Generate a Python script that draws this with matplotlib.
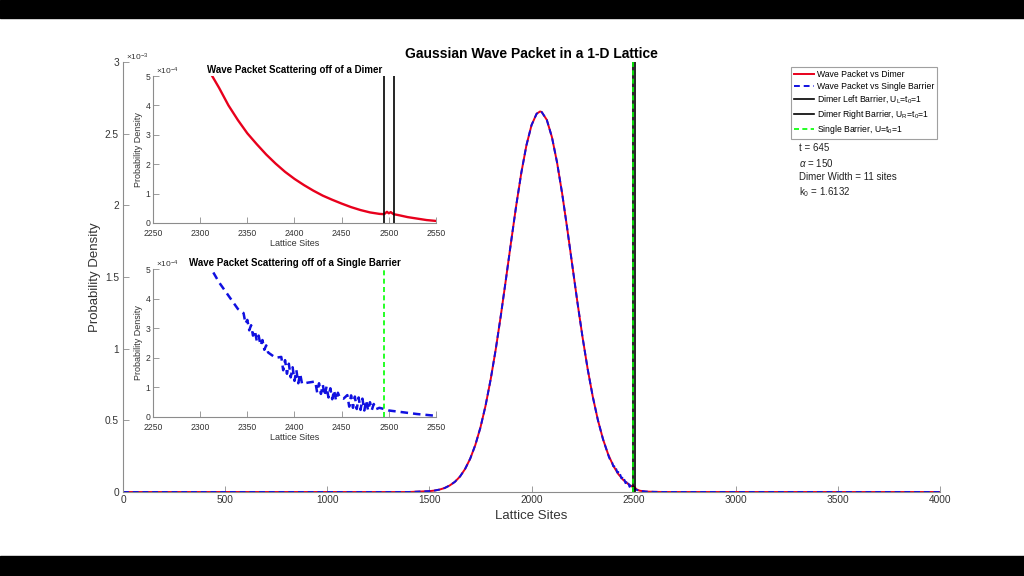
import numpy as np
import matplotlib
matplotlib.use("Agg")
import matplotlib.pyplot as plt
from matplotlib.patches import Rectangle
from matplotlib.ticker import FixedLocator, FuncFormatter

plt.rcParams['font.family'] = ['Liberation Sans', 'DejaVu Sans']
plt.rcParams['mathtext.fontset'] = 'custom'
plt.rcParams['mathtext.rm'] = 'Liberation Sans'
plt.rcParams['mathtext.it'] = 'Liberation Sans:italic'
plt.rcParams['mathtext.bf'] = 'Liberation Sans:bold'

# ---------------- data ----------------
# main panel, density in units of 1e-3
main_sites = [0, 1400, 1500, 1525, 1550, 1575, 1600, 1625, 1650, 1675, 1700, 1725,
              1750, 1775, 1800, 1825, 1850, 1875, 1900, 1925, 1950, 1975, 2000,
              2025, 2042, 2050, 2075, 2100, 2125, 2150, 2175, 2200, 2225, 2250,
              2275, 2300, 2325, 2350, 2375, 2400, 2425, 2450, 2475, 2490, 2495,
              2500, 2505, 2515, 2530, 2560, 2600, 2650, 4000]
dimer_main = [0, 0, 0.006, 0.010, 0.017, 0.028, 0.046, 0.071, 0.108, 0.161, 0.233,
              0.328, 0.450, 0.602, 0.785, 0.996, 1.233, 1.486, 1.745, 1.997, 2.226,
              2.418, 2.559, 2.639, 2.655, 2.651, 2.596, 2.476, 2.300, 2.083, 1.837,
              1.579, 1.322, 1.079, 0.858, 0.665, 0.502, 0.369, 0.264, 0.184, 0.125,
              0.083, 0.054, 0.040, 0.036, 0.040, 0.032, 0.018, 0.009, 0.003, 0.001,
              0, 0]

single_sites = [0, 1400, 1500, 1525, 1550, 1575, 1600, 1625, 1650, 1675, 1700, 1725,
                1750, 1775, 1800, 1825, 1850, 1875, 1900, 1925, 1950, 1975, 2000,
                2025, 2042, 2050, 2075, 2100, 2125, 2150, 2175, 2200, 2225, 2250,
                2275, 2300, 2325, 2350, 2380, 2390, 2395, 2400, 2405, 2410, 2415,
                2420, 2425, 2430, 2435, 2440, 2445, 2450, 2455, 2460, 2465, 2470,
                2475, 2480, 2485, 2490, 2495, 2500, 2515, 2530, 2560, 2600, 2650,
                4000]
single_main = [0, 0, 0.006, 0.010, 0.017, 0.028, 0.046, 0.071, 0.108, 0.161, 0.233,
               0.328, 0.450, 0.602, 0.785, 0.996, 1.233, 1.486, 1.745, 1.997, 2.226,
               2.418, 2.559, 2.639, 2.655, 2.651, 2.596, 2.476, 2.300, 2.083, 1.837,
               1.579, 1.322, 1.079, 0.858, 0.665, 0.502, 0.369, 0.240, 0.210, 0.205,
               0.180, 0.180, 0.155, 0.160, 0.135, 0.140, 0.115, 0.120, 0.095, 0.100,
               0.078, 0.085, 0.062, 0.068, 0.048, 0.058, 0.036, 0.045, 0.026, 0.030,
               0.022, 0.015, 0.008, 0.003, 0.001, 0, 0]

# inset 1 (dimer), density in units of 1e-4
dimer_inset_sites = [2300, 2310, 2320, 2330, 2340, 2350, 2360, 2370, 2380, 2390, 2400,
                     2410, 2420, 2430, 2440, 2450, 2460, 2470, 2480, 2490, 2495, 2498,
                     2500, 2502, 2505, 2510, 2520, 2530, 2540, 2550]
dimer_inset = [5.60, 5.15, 4.60, 4.00, 3.50, 3.05, 2.68, 2.33, 2.02, 1.74, 1.50,
               1.29, 1.10, 0.93, 0.79, 0.66, 0.54, 0.44, 0.36, 0.31, 0.30, 0.38,
               0.33, 0.37, 0.30, 0.27, 0.20, 0.15, 0.10, 0.07]

# inset 2 (single barrier), density in units of 1e-4
single_inset_sites = [2300, 2310, 2320, 2330, 2340,
                      2346, 2348, 2350, 2352, 2354, 2356, 2358, 2360, 2362, 2364, 2366,
                      2368, 2370, 2372, 2380,
                      2386, 2388, 2390, 2392, 2394, 2396, 2398, 2400, 2402, 2404, 2406,
                      2408, 2414,
                      2422, 2424, 2426, 2428, 2430, 2432, 2434, 2436, 2438, 2440, 2442,
                      2444, 2446, 2448, 2452,
                      2456, 2458, 2460, 2462, 2464, 2466, 2468, 2470, 2472, 2474, 2476,
                      2478, 2480, 2482, 2484, 2486, 2490, 2495, 2500, 2510, 2520, 2530,
                      2540, 2550]
single_inset = [5.60, 5.10, 4.55, 4.10, 3.65,
                3.51, 3.16, 3.28, 2.93, 3.10, 2.75, 2.92, 2.57, 2.75, 2.42, 2.60,
                2.27, 2.42, 2.18, 2.00,
                2.03, 1.58, 1.92, 1.46, 1.80, 1.34, 1.68, 1.22, 1.58, 1.14, 1.46,
                1.12, 1.16,
                1.20, 0.83, 1.14, 0.78, 1.09, 0.72, 1.03, 0.66, 0.97, 0.60, 0.90,
                0.56, 0.82, 0.66, 0.62,
                0.74, 0.35, 0.73, 0.31, 0.69, 0.27, 0.66, 0.24, 0.62, 0.22, 0.56,
                0.22, 0.50, 0.24, 0.44, 0.26, 0.31, 0.27, 0.22, 0.18, 0.14, 0.10,
                0.07, 0.04]

dimer_left_site = 2495
dimer_right_site = 2505
single_barrier_site = 2495

main_xticks = [0, 500, 1000, 1500, 2000, 2500, 3000, 3500, 4000]
main_yticks = [0, 0.5, 1, 1.5, 2, 2.5, 3]          # x 1e-3
inset_xticks = [2250, 2300, 2350, 2400, 2450, 2500, 2550]
inset_yticks = [0, 1, 2, 3, 4, 5]                  # x 1e-4

labels = ['Wave Packet vs Dimer', 'Wave Packet vs Single Barrier',
          r'Dimer Left Barrier, U$_{\mathregular{L}}$=t$_{\mathregular{0}}$=1',
          r'Dimer Right Barrier, U$_{\mathregular{R}}$=t$_{\mathregular{0}}$=1',
          r'Single Barrier, U=t$_{\mathregular{0}}$=1']
info_lines = ['t = 645', r'$\alpha$ = 150', 'Dimer Width = 11 sites',
              r'k$_{\mathregular{0}}$ = 1.6132']

# ---------------- styling ----------------
W, H = 1024, 576
AX_COL = '#8c8c8c'
TXT_COL = '#333333'
RED = '#e8001c'
BLUE = '#1010e0'
GREEN = '#00ff00'

fig = plt.figure(figsize=(W / 100, H / 100), dpi=100)
fig.patch.set_facecolor('white')


def style_axes(a, fs, xpad, ypad):
    for s in ['top', 'right']:
        a.spines[s].set_visible(False)
    for s in ['left', 'bottom']:
        a.spines[s].set_color(AX_COL)
        a.spines[s].set_linewidth(0.8)
    a.tick_params(direction='in', length=4, width=0.6, colors=AX_COL,
                  labelcolor=TXT_COL, labelsize=fs)
    a.tick_params(axis='x', pad=xpad)
    a.tick_params(axis='y', pad=ypad)


def px_axes(x0, y0, x1, y1):
    return fig.add_axes([x0 / W, 1 - y1 / H, (x1 - x0) / W, (y1 - y0) / H])


# main axes
ax = px_axes(123, 62, 940, 492)
style_axes(ax, 7.3, 2.5, 3)
scale_m = 1e-3
ax.plot(main_sites, np.array(dimer_main) * scale_m, color=RED, lw=1.4, label=labels[0])
ax.plot(single_sites, np.array(single_main) * scale_m, color=BLUE, lw=1.4,
        ls=(0, (3, 2)), label=labels[1])
ax.plot([dimer_left_site] * 2, [0, 3 * scale_m], color='black', lw=1.2, label=labels[2])
ax.plot([dimer_right_site] * 2, [0, 3 * scale_m], color='black', lw=1.2, label=labels[3])
ax.plot([single_barrier_site] * 2, [0, 3 * scale_m], color=GREEN, lw=1.2,
        ls=(0, (3, 2)), label=labels[4])
ax.set_xlim(0, 4000)
ax.set_ylim(0, 3 * scale_m)
ax.xaxis.set_major_locator(FixedLocator(main_xticks))
ax.yaxis.set_major_locator(FixedLocator([v * scale_m for v in main_yticks]))
ax.yaxis.set_major_formatter(FuncFormatter(lambda v, p: '%g' % round(v / scale_m, 3)))
ax.set_xlabel('Lattice Sites', fontsize=9.5, color=TXT_COL, labelpad=3)
ax.set_ylabel('Probability Density', fontsize=9.5, color=TXT_COL, labelpad=3)
ax.set_title('Gaussian Wave Packet in a 1-D Lattice', fontsize=10, fontweight='bold',
             pad=3)
ax.text(0.004, 0.998, r'$\times$10$^{\mathregular{-3}}$', transform=ax.transAxes,
        fontsize=6, color=TXT_COL, ha='left', va='bottom')

leg = ax.legend(loc='upper right', bbox_to_anchor=(937 / W, 1 - 67 / H),
                bbox_transform=fig.transFigure, borderaxespad=0, fontsize=6.2,
                handlelength=2.4, handletextpad=0.25, labelspacing=0.3,
                borderpad=0.35, fancybox=False, framealpha=1)
leg.get_frame().set_edgecolor('#a0a0a0')
leg.get_frame().set_linewidth(0.8)

for i, line in enumerate(info_lines):
    fig.text(799 / W, 1 - (148 + i * 14.7) / H, line, fontsize=7, color='#222222',
             ha='left', va='center')

# inset 1: dimer
scale_i = 1e-4
ax1 = px_axes(153, 76, 436, 223)
style_axes(ax1, 6.2, 4, 2)
ax1.plot(dimer_inset_sites, np.array(dimer_inset) * scale_i, color=RED, lw=1.7)
ax1.plot([dimer_left_site] * 2, [0, 5 * scale_i], color='black', lw=1.2)
ax1.plot([dimer_right_site] * 2, [0, 5 * scale_i], color='black', lw=1.2)
ax1.set_title('Wave Packet Scattering off of a Dimer', fontsize=7, fontweight='bold',
              pad=2)

# inset 2: single barrier
ax2 = px_axes(153, 269, 436, 417)
style_axes(ax2, 6.2, 4, 2)
ax2.plot(single_inset_sites, np.array(single_inset) * scale_i, color=BLUE, lw=1.8,
         ls=(0, (3, 2)))
ax2.plot([single_barrier_site] * 2, [0, 5 * scale_i], color=GREEN, lw=1.2,
         ls=(0, (3, 2)))
ax2.set_title('Wave Packet Scattering off of a Single Barrier', fontsize=7,
              fontweight='bold', pad=2)

for a in (ax1, ax2):
    a.set_xlim(2250, 2550)
    a.set_ylim(0, 5 * scale_i)
    a.xaxis.set_major_locator(FixedLocator(inset_xticks))
    a.yaxis.set_major_locator(FixedLocator([v * scale_i for v in inset_yticks]))
    a.yaxis.set_major_formatter(FuncFormatter(lambda v, p: '%g' % round(v / scale_i, 3)))
    a.set_xlabel('Lattice Sites', fontsize=6.5, color=TXT_COL, labelpad=1)
    a.set_ylabel('Probability Density', fontsize=6.5, color=TXT_COL, labelpad=2)
    a.text(0.01, 0.995, r'$\times$10$^{\mathregular{-4}}$', transform=a.transAxes,
           fontsize=6, color=TXT_COL, ha='left', va='bottom')

# letterbox bars
fig.add_artist(Rectangle((0, 1 - 18 / H), 1, 18 / H, transform=fig.transFigure,
                         color='black', zorder=10))
fig.add_artist(Rectangle((0, 0), 1, 20 / H, transform=fig.transFigure,
                         color='black', zorder=10))

fig.savefig('out.png', dpi=100)
